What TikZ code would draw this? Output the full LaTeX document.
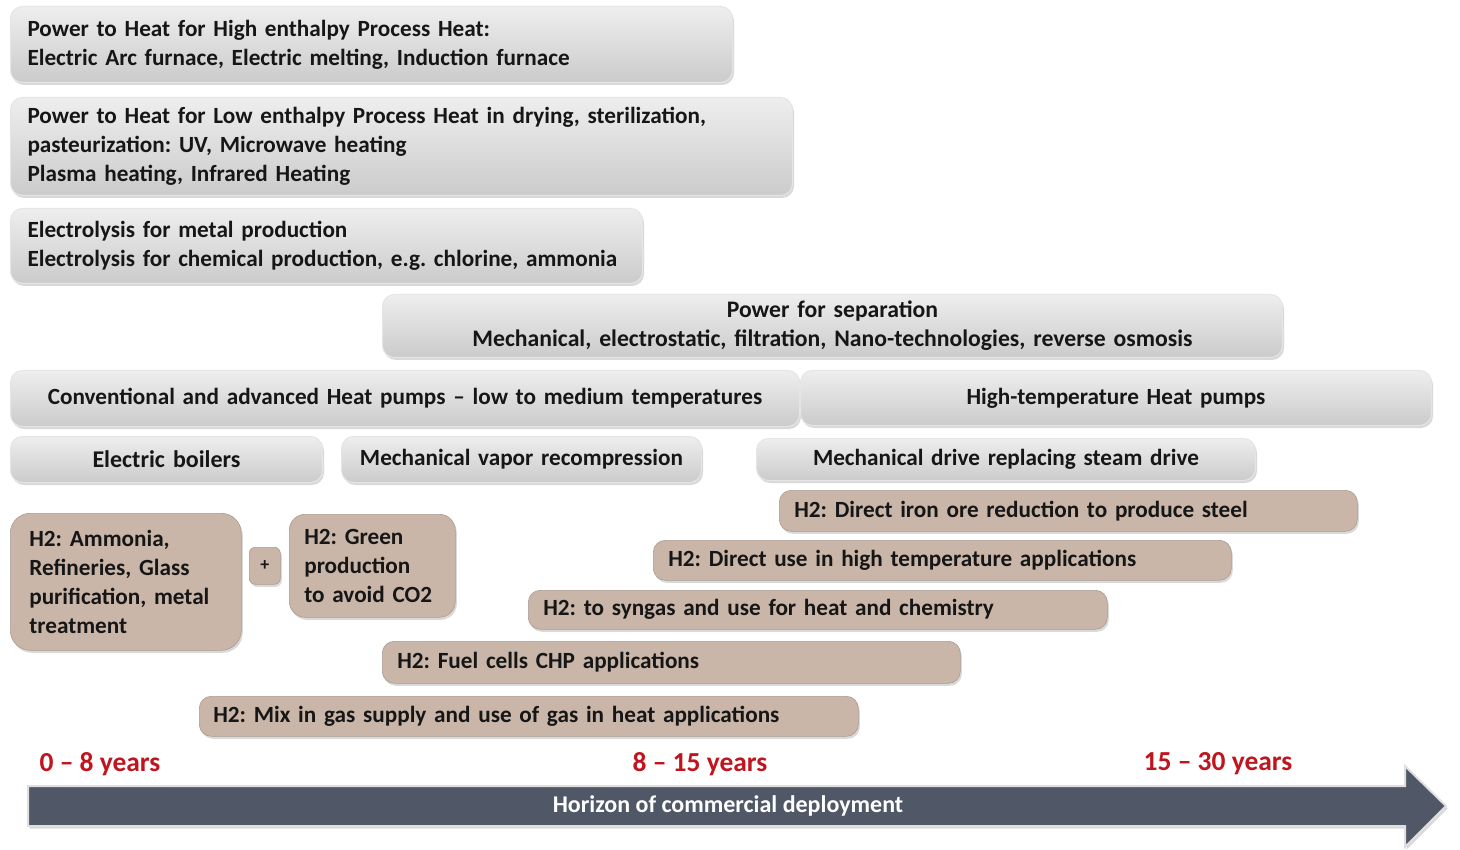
\documentclass[tikz,border=0pt]{standalone}
\usepackage{fontspec}
\setmainfont{Carlito}
\usetikzlibrary{shadows}
\definecolor{tanc}{RGB}{201,182,169}
\definecolor{gtop}{RGB}{238,238,238}
\definecolor{gbot}{RGB}{203,203,203}
\definecolor{arrowfill}{RGB}{80,88,104}
\definecolor{yearred}{RGB}{192,20,30}
\definecolor{txt}{RGB}{22,22,22}
\begin{document}
\frenchspacing\hyphenpenalty=10000
\begin{tikzpicture}[x=1pt,y=-1pt,
  box/.style={rounded corners=12pt, inner xsep=17pt, inner ysep=0pt,
    font=\fontsize{23.2}{29}\selectfont\bfseries, text=txt,
    drop shadow={shadow xshift=1.5pt, shadow yshift=-2.5pt, opacity=0.3}},
  gbox/.style={box, top color=gtop, bottom color=gbot, draw=gray!20, line width=1pt},
  tbox/.style={box, fill=tanc, draw=tanc!85!black, line width=0.6pt},
  lt/.style={anchor=north west, align=left},
  ct/.style={anchor=north west, align=center},
  yr/.style={font=\fontsize{27.5}{30}\selectfont\bfseries, text=yearred, inner sep=0pt},
]
\useasboundingbox (0,0) rectangle (1460,850);

% grey boxes
\node[gbox, lt, minimum width=722pt, minimum height=76pt, text width=688pt] (b1) at (10,6)
  {Power to Heat for High enthalpy Process Heat:\\Electric Arc furnace, Electric melting, Induction furnace};
\node[gbox, lt, minimum width=782pt, minimum height=98pt, text width=748pt] (b2) at (10,97)
  {Power to Heat for Low enthalpy Process Heat in drying, sterilization,\\pasteurization: UV, Microwave heating\\Plasma heating, Infrared Heating};
\node[gbox, lt, minimum width=632pt, minimum height=75pt, text width=598pt] (b3) at (10,208)
  {Electrolysis for metal production\\Electrolysis for chemical production, e.g. chlorine, ammonia};
\node[gbox, ct, minimum width=900pt, minimum height=63pt, text width=866pt, font=\fontsize{23.7}{29}\selectfont\bfseries] (b4) at (382,294)
  {Power for separation\\Mechanical, electrostatic, filtration, Nano-technologies, reverse osmosis};
\node[gbox, ct, minimum width=789pt, minimum height=56pt, text width=769pt, inner xsep=10pt] (b5) at (10,370)
  {Conventional and advanced Heat pumps -- low to medium temperatures};
\node[gbox, ct, minimum width=631pt, minimum height=55pt, text width=597pt] (b6) at (800,370)
  {High-temperature Heat pumps};
\node[gbox, ct, minimum width=312pt, minimum height=46pt, text width=292pt, inner xsep=10pt, font=\fontsize{24}{29}\selectfont\bfseries] (b7) at (10,436)
  {Electric boilers};
\node[gbox, ct, minimum width=360pt, minimum height=46pt, text width=340pt, inner xsep=10pt] (b8) at (341,436)
  {Mechanical vapor recompression};
\node[gbox, ct, minimum width=499pt, minimum height=42pt, text width=479pt, inner xsep=10pt] (b9) at (756,438)
  {Mechanical drive replacing steam drive};

% tan boxes
\node[tbox, lt, inner xsep=15pt, minimum width=578pt, minimum height=41pt, text width=548pt] (t1) at (779,490)
  {H2: Direct iron ore reduction to produce steel};
\node[tbox, lt, inner xsep=15pt, minimum width=578pt, minimum height=40pt, text width=548pt] (t2) at (653,540)
  {H2: Direct use in high temperature applications};
\node[tbox, lt, inner xsep=15pt, minimum width=579pt, minimum height=39pt, text width=549pt] (t3) at (528,590)
  {H2: to syngas and use for heat and chemistry};
\node[tbox, lt, inner xsep=15pt, minimum width=578pt, minimum height=42pt, text width=548pt] (t4) at (382,641)
  {H2: Fuel cells CHP applications};
\node[tbox, lt, inner xsep=14pt, minimum width=659pt, minimum height=40pt, text width=631pt] (t5) at (199,696)
  {H2: Mix in gas supply and use of gas in heat applications};
\node[tbox, lt, rounded corners=20pt, inner xsep=19pt, minimum width=231pt, minimum height=137pt, text width=193pt] (ta) at (10,513)
  {H2: Ammonia,\\Refineries, Glass\\purification, metal\\treatment};
\node[tbox, ct, rounded corners=6pt, inner xsep=0pt, minimum width=31pt, minimum height=37pt, text width=31pt, font=\fontsize{18}{20}\selectfont\bfseries] (plus) at (249,547)
  {+};
\node[tbox, lt, rounded corners=16pt, inner xsep=15pt, minimum width=166pt, minimum height=103pt, text width=136pt] (tg) at (289,514)
  {H2: Green\\production\\to avoid CO2};

% year labels
\node[yr] (y1) at (100,764) {0 -- 8 years};
\node[yr] (y2) at (700,764) {8 -- 15 years};
\node[yr] (y3) at (1218,764) {15 -- 30 years};

% arrow
\coordinate (a1) at (28,786);
\coordinate (a2) at (1405,786);
\coordinate (a3) at (1405,766);
\coordinate (a4) at (1446,806);
\coordinate (a5) at (1405,847);
\coordinate (a6) at (1405,826);
\coordinate (a7) at (28,826);
\draw[fill=arrowfill, draw=gray!25, line width=2pt,
  drop shadow={shadow xshift=1.5pt, shadow yshift=-2.5pt, opacity=0.3}]
  (a1) -- (a2) -- (a3) -- (a4) -- (a5) -- (a6) -- (a7) -- cycle;
\node[font=\fontsize{24}{29}\selectfont\bfseries, text=white] (hz) at (728,806) {Horizon of commercial deployment};
\end{tikzpicture}
\end{document}
